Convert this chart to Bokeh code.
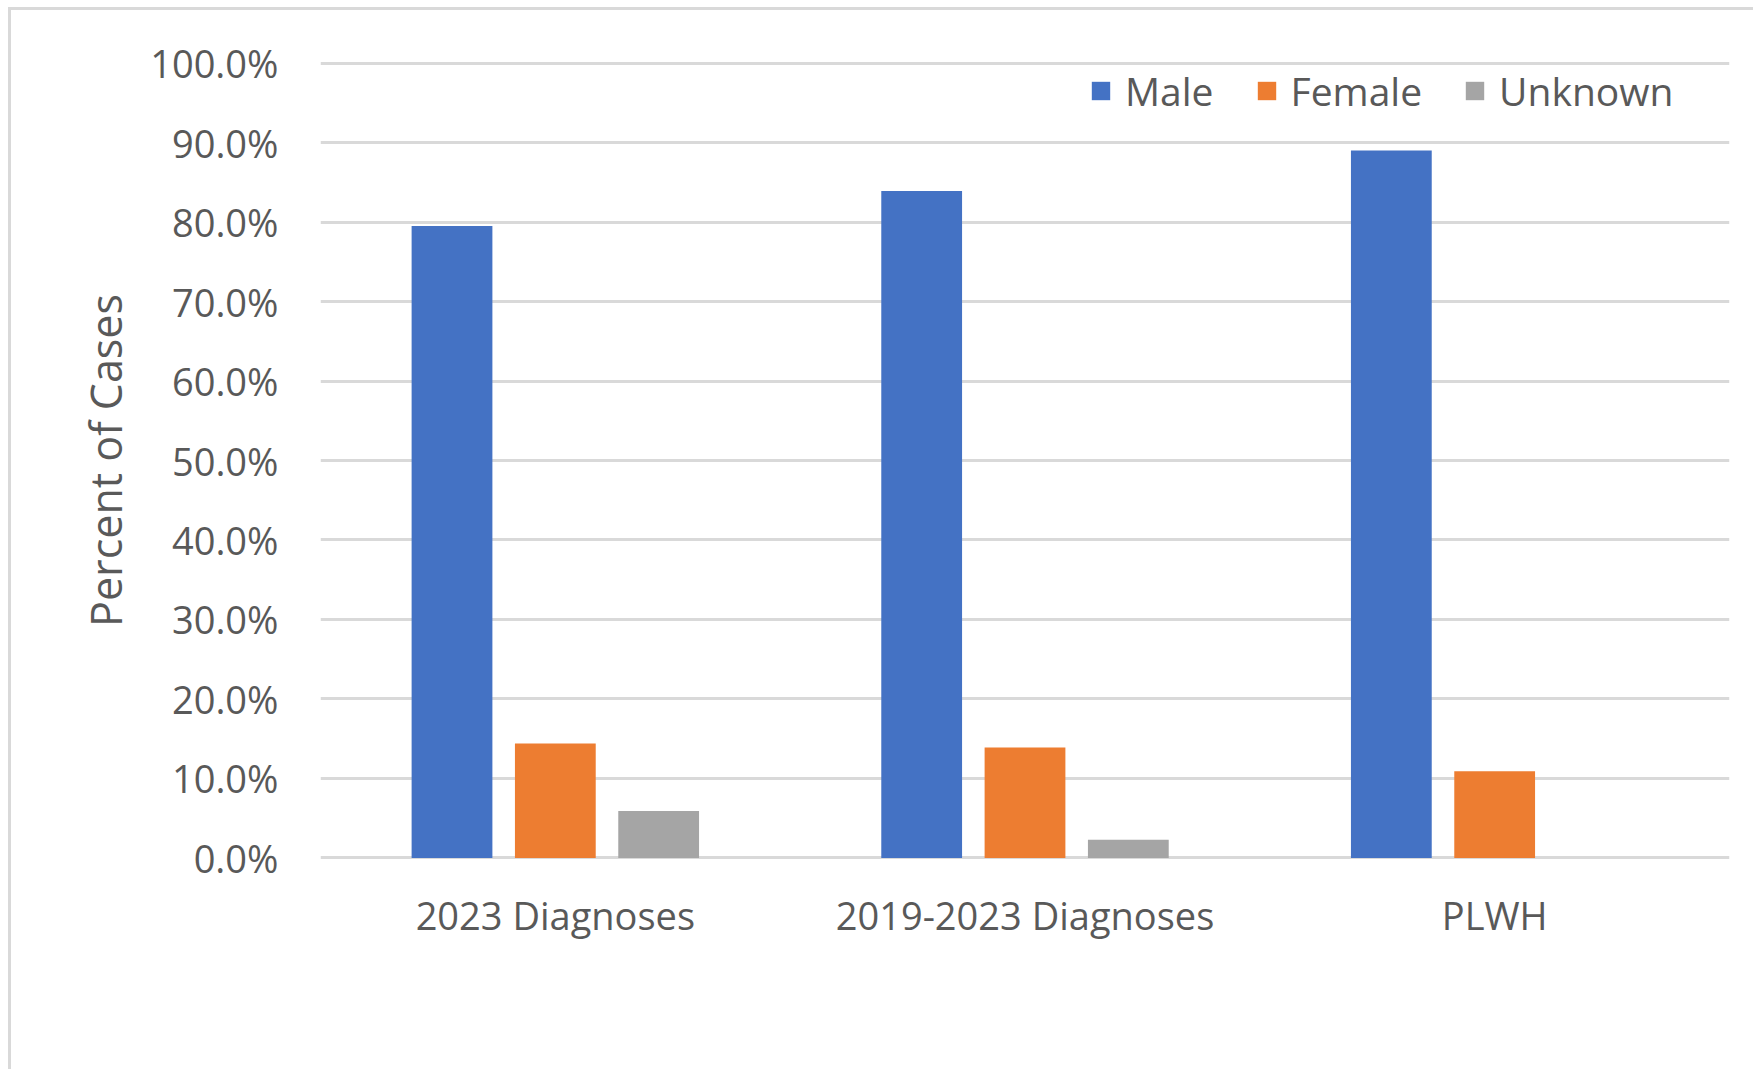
from bokeh.plotting import figure
from bokeh.models import ColumnDataSource, FactorRange, Range1d, NumeralTickFormatter, FixedTicker, Legend
from bokeh.transform import dodge
from bokeh.embed import file_html
from bokeh.resources import INLINE

categories = ["2023 Diagnoses", "2019-2023 Diagnoses", "PLWH"]
male = [0.795, 0.839, 0.890]
female = [0.144, 0.139, 0.109]
unknown = [0.059, 0.023, 0.0]
series_names = ["Male", "Female", "Unknown"]
series_colors = ["#4472C4", "#ED7D31", "#A5A5A5"]
y_ticks = [i / 10 for i in range(11)]

source = ColumnDataSource(data=dict(cat=categories, Male=male, Female=female, Unknown=unknown))

FONT = "Open Sans"
TXT = "#595959"

p = figure(
    x_range=FactorRange(*categories, range_padding=0),
    y_range=Range1d(-0.002, 1.002),
    width=1745, height=1062,
    output_backend="svg", toolbar_location=None,
    min_border_left=309, min_border_right=27, min_border_top=51, min_border_bottom=213,
)
p.styles = {"border-left": "3px solid #d9d9d9", "border-top": "3px solid #d9d9d9",
            "margin-left": "8px", "margin-top": "7px"}
p.outline_line_color = None
p.background_fill_color = "white"
p.border_fill_color = "white"

offsets = [-0.22, 0.0, 0.22]
renderers = []
for name, color, off in zip(series_names, series_colors, offsets):
    r = p.vbar(x=dodge("cat", off, range=p.x_range), top=name, width=0.172, bottom=0,
               source=source, fill_color=color, line_color=None)
    renderers.append((name, [r]))

legend = Legend(items=renderers, orientation="horizontal", location=(769, 742))
legend.border_line_color = None
legend.background_fill_alpha = 0
legend.padding = 0
legend.margin = 0
legend.spacing = 41
legend.glyph_width = 23
legend.glyph_height = 23
legend.label_standoff = 13
legend.label_text_font = FONT
legend.label_text_font_size = "39px"
legend.label_text_color = TXT
p.add_layout(legend, "center")

# grid
p.xgrid.grid_line_color = None
p.ygrid.grid_line_color = "#d9d9d9"
p.ygrid.grid_line_width = 3
p.ygrid.ticker = FixedTicker(ticks=y_ticks)

# y axis
p.yaxis.ticker = FixedTicker(ticks=y_ticks)
p.yaxis.formatter = NumeralTickFormatter(format="0.0%")
p.yaxis.axis_line_color = None
p.yaxis.major_tick_line_color = None
p.yaxis.minor_tick_line_color = None
p.yaxis.major_label_standoff = 36
p.yaxis.major_label_text_font = FONT
p.yaxis.major_label_text_font_size = "38px"
p.yaxis.major_label_text_color = TXT
p.yaxis.axis_label = "Percent of Cases"
p.yaxis.axis_label_text_font = FONT
p.yaxis.axis_label_text_font_size = "43px"
p.yaxis.axis_label_text_font_style = "normal"
p.yaxis.axis_label_text_color = TXT
p.yaxis.axis_label_standoff = 12

# x axis
p.xaxis.axis_line_color = None
p.xaxis.major_tick_line_color = None
p.xaxis.minor_tick_line_color = None
p.xaxis.major_label_standoff = 23
p.xaxis.major_label_text_font = FONT
p.xaxis.major_label_text_font_size = "38px"
p.xaxis.major_label_text_color = TXT

open("out.html", "w").write(file_html(p, INLINE))
